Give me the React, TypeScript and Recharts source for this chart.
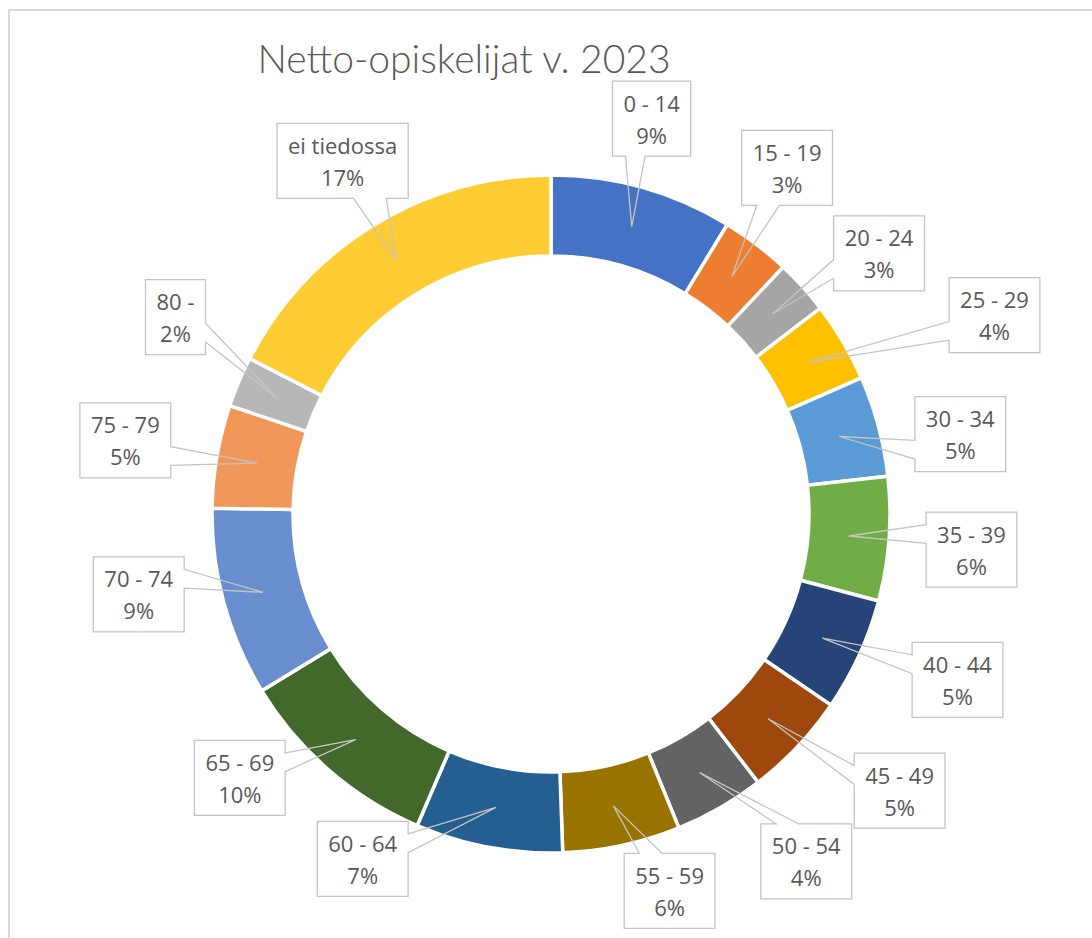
import { PieChart, Pie, Cell } from "recharts";

const categories = [
  "0 - 14", "15 - 19", "20 - 24", "25 - 29", "30 - 34", "35 - 39", "40 - 44", "45 - 49",
  "50 - 54", "55 - 59", "60 - 64", "65 - 69", "70 - 74", "75 - 79", "80 -", "ei tiedossa",
];
const shares = [8.7, 3.3, 2.6, 3.8, 4.8, 5.9, 5.4, 5.0, 4.3, 5.6, 7.0, 9.8, 9.0, 4.9, 2.4, 17.4];

const sliceColors = [
  "#4472C4", "#ED7D31", "#A5A5A5", "#FFC000", "#5B9BD5", "#70AD47", "#264478", "#9E480E",
  "#636363", "#997300", "#255E91", "#43682B", "#698ED0", "#F1975A", "#B7B7B7", "#FFCD33",
];

// where each callout box sits: distance from centre, and angle nudge from the slice middle (deg)
const calloutRadius = [408, 419, 419, 486, 417, 422, 439, 445, 431, 395, 393, 408, 420, 432, 424, 410];
const calloutShift = [-1.4, -3.0, 3.6, 6.4, 4.0, 0.6, -2.4, -4.9, -6.4, -5.4, 18.0, 8.8, 4.2, 0, 4.7, 0.8];

const data = categories.map((name, i) => ({ name, value: shares[i] }));

const FONT = '22px "Open Sans"';
let ctx: CanvasRenderingContext2D | null = null;
function textW(s: string) {
  if (!ctx) ctx = document.createElement("canvas").getContext("2d");
  if (!ctx) return s.length * 11;
  ctx.font = FONT;
  return ctx.measureText(s).width;
}

// polar point, angle clockwise from 12 o'clock
function pt(cx: number, cy: number, r: number, deg: number) {
  const a = (deg * Math.PI) / 180;
  return [cx + r * Math.sin(a), cy - r * Math.cos(a)];
}

// box + wedge like Excel's wedgeRectCallout
function calloutPath(L: number, T: number, w: number, h: number, tx: number, ty: number) {
  const R = L + w, B = T + h;
  const dx = tx - (L + w / 2), dy = ty - (T + h / 2);
  const side = Math.abs(dx * h) > Math.abs(dy * w);
  const x1 = L + (w * (dx > 0 ? 7 : 2)) / 12, x2 = L + (w * (dx > 0 ? 10 : 5)) / 12;
  const y1 = T + (h * (dy > 0 ? 7 : 2)) / 12, y2 = T + (h * (dy > 0 ? 10 : 5)) / 12;
  const p: number[][] = [[L, T]];
  if (!side && dy < 0) p.push([x1, T], [tx, ty], [x2, T]);
  p.push([R, T]);
  if (side && dx > 0) p.push([R, y1], [tx, ty], [R, y2]);
  p.push([R, B]);
  if (!side && dy > 0) p.push([x2, B], [tx, ty], [x1, B]);
  p.push([L, B]);
  if (side && dx < 0) p.push([L, y2], [tx, ty], [L, y1]);
  return "M" + p.map((q) => q[0].toFixed(1) + "," + q[1].toFixed(1)).join("L") + "Z";
}

function Callout(props: any) {
  const { cx, cy, midAngle, innerRadius, outerRadius, percent, index, name } = props;
  const deg = 90 - midAngle;
  const [tx, ty] = pt(cx, cy, (innerRadius + outerRadius) / 2, deg);
  const [bx, by] = pt(cx, cy, calloutRadius[index], deg + calloutShift[index]);
  const pct = `${Math.round(percent * 100)}%`;
  const w = Math.max(textW(name), textW(pct)) + 22;
  const h = 75;
  const L = bx - w / 2, T = by - h / 2;
  return (
    <g>
      <path d={calloutPath(L, T, w, h, tx, ty)} fill="none" stroke="#C4C4C4" strokeWidth={1.3} />
      <text x={bx} y={by - 16} textAnchor="middle" dominantBaseline="central"
        style={{ font: FONT, fill: "#595959" }}>{name}</text>
      <text x={bx} y={by + 16} textAnchor="middle" dominantBaseline="central"
        style={{ font: FONT, fill: "#595959" }}>{pct}</text>
    </g>
  );
}

export default function App() {
  return (
    <div style={{ position: "absolute", left: 0, top: 0, width: 1092, height: 938, overflow: "hidden", background: "#fff" }}>
      <div style={{
        position: "absolute", left: 8, top: 9, width: 1200, height: 1000,
        borderTop: "2px solid #DADADA", borderLeft: "2px solid #DADADA",
      }} />
      <div style={{
        position: "absolute", left: 0, width: 928, top: 34, textAlign: "center",
        fontFamily: "Lato", fontWeight: 300, fontSize: 39, color: "#595959", lineHeight: "48px",
      }}>
        Netto-opiskelijat v. 2023
      </div>
      <div style={{ position: "absolute", left: 0, top: 0 }}>
        <PieChart width={1092} height={938} margin={{ top: 0, right: 0, bottom: 0, left: 0 }}>
          <Pie
            data={data}
            dataKey="value"
            nameKey="name"
            cx={551}
            cy={514}
            innerRadius={258}
            outerRadius={339}
            startAngle={90}
            endAngle={-270}
            stroke="#ffffff"
            strokeWidth={3.5}
            label={Callout}
            labelLine={false}
            isAnimationActive={false}
          >
            {data.map((d, i) => (
              <Cell key={d.name} fill={sliceColors[i]} />
            ))}
          </Pie>
        </PieChart>
      </div>
    </div>
  );
}
